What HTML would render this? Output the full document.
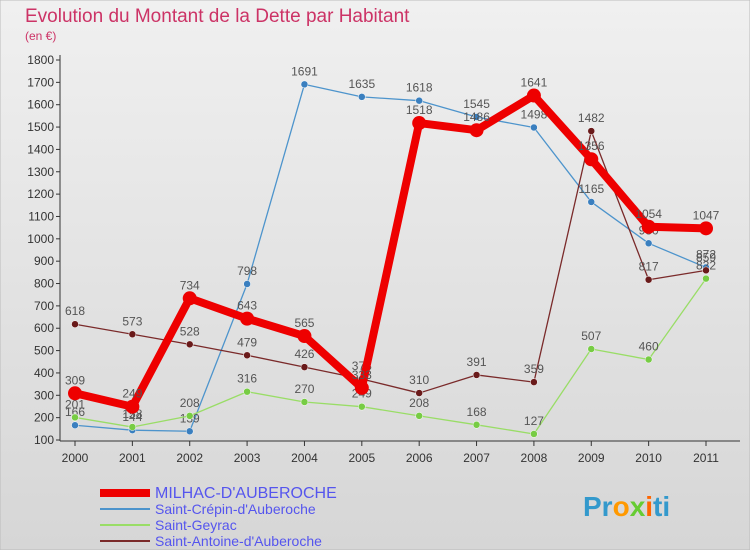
<!DOCTYPE html>
<html><head><meta charset="utf-8"><style>
body{margin:0;width:750px;height:550px;overflow:hidden;font-family:"Liberation Sans",sans-serif}
</style></head><body>
<svg id="c" width="750" height="550" xmlns="http://www.w3.org/2000/svg">
<defs><linearGradient id="bg" x1="0" y1="0" x2="0" y2="1"><stop offset="0" stop-color="#f0f0f0"/><stop offset="1" stop-color="#d6d6d6"/></linearGradient></defs>
<rect x="0" y="0" width="750" height="550" fill="url(#bg)" stroke="#bbb"/>
<text x="25" y="22" font-size="19" fill="#cc3366">Evolution du Montant de la Dette par Habitant</text>
<text x="25" y="40" font-size="12" fill="#cc3366">(en €)</text>
<g id="axes"></g><g id="series"></g><g id="legend"></g>
<text x="583" y="516" font-size="28" font-weight="bold" fill="#3399cc">Pr<tspan fill="#ff9900">o</tspan><tspan fill="#66cc33">x</tspan><tspan fill="#ff6600">i</tspan>ti</text>
</svg>
<script>
const years=[2000,2001,2002,2003,2004,2005,2006,2007,2008,2009,2010,2011];
const milhac=[309,249,734,643,565,333,1518,1486,1641,1356,1054,1047];
const crepin=[166,144,139,798,1691,1635,1618,1545,1498,1165,980,872];
const geyrac=[201,158,208,316,270,249,208,168,127,507,460,822];
const antoine=[618,573,528,479,426,373,310,391,359,1482,817,859];
const yTicks=[100,200,300,400,500,600,700,800,900,1000,1100,1200,1300,1400,1500,1600,1700,1800];
const NS='http://www.w3.org/2000/svg';
const X=i=>75+i*(706-75)/11;
const Y=v=>440-(v-100)*380/1700;
function mk(p,t,a){const e=document.createElementNS(NS,t);for(const k in a)e.setAttribute(k,a[k]);p.appendChild(e);return e;}
const ax=document.getElementById('axes');
let l=mk(ax,'line',{x1:60,y1:55,x2:60,y2:441,stroke:'#333'});

l=mk(ax,'line',{x1:60,y1:441,x2:740,y2:441,stroke:'#333'});

yTicks.forEach(v=>{mk(ax,'line',{x1:56,y1:Y(v),x2:60,y2:Y(v),stroke:'#333'});
const t=mk(ax,'text',{x:54,y:Y(v)+4,'font-size':12,'text-anchor':'end',fill:'#333'});t.textContent=v;
});
years.forEach((y,i)=>{mk(ax,'line',{x1:X(i),y1:441,x2:X(i),y2:446,stroke:'#333'});
const t=mk(ax,'text',{x:X(i),y:462,'font-size':12,'text-anchor':'middle',fill:'#333'});t.textContent=y;
});
const S=[['saint-crepin',crepin,'#4d94cc','#3a7fbf',1.3,3.5],['saint-geyrac',geyrac,'#99dd66','#77cc44',1.3,3.5],['saint-antoine',antoine,'#7a2a2a','#6a1a1a',1.3,3.5],['milhac',milhac,'#ee0000','#ee0000',8,7]];
const sg=document.getElementById('series');
S.forEach(([n,d,c,pc,w,r])=>{
const g=mk(sg,'g',{});
const p=mk(g,'polyline',{points:d.map((v,i)=>X(i)+','+Y(v)).join(' '),fill:'none',stroke:c,'stroke-width':w,'stroke-linejoin':'round'});

d.forEach((v,i)=>{const m=mk(g,'circle',{cx:X(i),cy:Y(v),r:r,fill:pc,stroke:r>5?'none':'#fff','stroke-width':0.5});

const t=mk(g,'text',{x:X(i),y:Y(v)-9,'font-size':12,'text-anchor':'middle',fill:'#555'});t.textContent=v;
});});
const lg=document.getElementById('legend');
const L=[['MILHAC-D\'AUBEROCHE','#ee0000',8],['Saint-Crépin-d\'Auberoche','#4d94cc',2],['Saint-Geyrac','#99dd66',2],['Saint-Antoine-d\'Auberoche','#7a2a2a',2]];
L.forEach(([n,c,w],i)=>{const y=493+i*16;
const g=mk(lg,'g',{});
mk(g,'line',{x1:100,y1:y,x2:150,y2:y,stroke:c,'stroke-width':w});
const t=mk(g,'text',{x:155,y:y+5,'font-size':i==0?16:14,fill:'#5555ee'});t.textContent=n;});
</script>
</body></html>
